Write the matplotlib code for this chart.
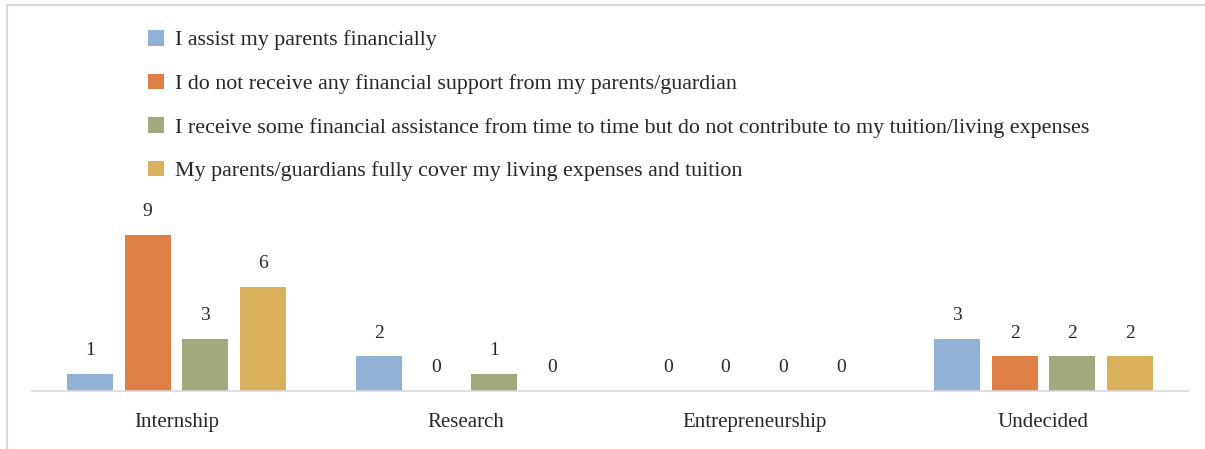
import matplotlib as mpl
mpl.use('Agg')
import matplotlib.pyplot as plt
import numpy as np
from matplotlib.lines import Line2D

plt.rcParams['font.family'] = ['Liberation Serif', 'DejaVu Serif']

categories = ['Internship', 'Research', 'Entrepreneurship', 'Undecided']
series_names = [
    'I assist my parents financially',
    'I do not receive any financial support from my parents/guardian',
    'I receive some financial assistance from time to time but do not contribute to my tuition/living expenses',
    'My parents/guardians fully cover my living expenses and tuition',
]
assist_parents = [1, 2, 0, 3]
no_support = [9, 0, 0, 2]
some_assistance = [3, 1, 0, 2]
fully_covered = [6, 0, 0, 2]
colors = ['#92B2D5', '#DE7F48', '#A2AA7D', '#D9B15C']

W, H = 1205, 449
fig = plt.figure(figsize=(W / 100, H / 100), dpi=100)
ax = fig.add_axes([32 / W, (H - 391) / H, (1188 - 32) / W, 191 / H])

x = np.arange(len(categories))
step = 0.2
width = 0.159
all_series = [assist_parents, no_support, some_assistance, fully_covered]
handles = []
for i, (vals, c, name) in enumerate(zip(all_series, colors, series_names)):
    pos = x + (i - 1.5) * step
    bars = ax.bar(pos, vals, width, color=c, label=name)
    handles.append(bars)
    for xp, v in zip(pos, vals):
        ax.annotate(str(v), (xp, v), xytext=(0, 10.5), textcoords='offset points',
                    ha='center', va='bottom', fontsize=14, color='#262626')

ax.set_xlim(-0.5, 3.5)
ax.set_ylim(0, 11)
ax.set_xticks(x)
ax.set_xticklabels(categories, fontsize=15, color='#262626')
ax.tick_params(axis='x', length=0, pad=15.5)
ax.set_yticks([])
for s in ['top', 'right', 'left']:
    ax.spines[s].set_visible(False)
ax.spines['bottom'].set_color('#D9D9D9')
ax.spines['bottom'].set_linewidth(1.2)

fig.legend(handles=handles, loc='upper left', bbox_to_anchor=(137 / W, 1 - 19 / H),
           frameon=False, fontsize=15.8, handlelength=0.72, handleheight=0.72,
           handletextpad=0.5, labelspacing=1.05, borderpad=0, labelcolor='#262626')

# outer chart frame
fig.add_artist(Line2D([7 / W, 7 / W], [0, 1 - 5 / H], color='#D9D9D9', lw=1.5))
fig.add_artist(Line2D([7 / W, 1], [1 - 5 / H, 1 - 5 / H], color='#D9D9D9', lw=1.5))

fig.savefig('out.png', dpi=100)
